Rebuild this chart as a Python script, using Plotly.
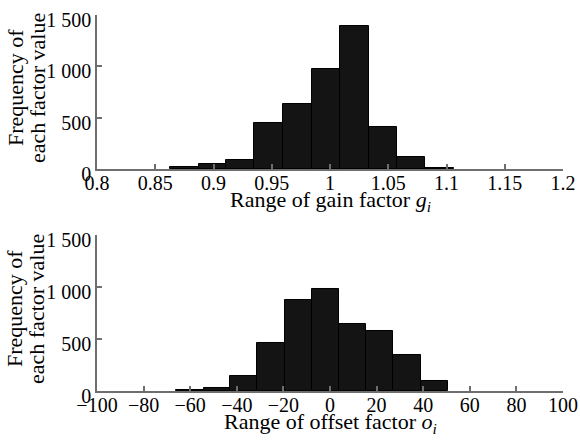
import plotly.graph_objects as go

# Gain factor histogram
gain_edges = [0.8629, 0.8873, 0.9107, 0.9350, 0.9594, 0.9845, 1.0089, 1.0332, 1.0575, 1.0818, 1.1062]
gain_counts = [20, 45, 85, 445, 630, 970, 1390, 407, 116, 8]

# Offset factor histogram
offset_edges = [-66.0, -54.2, -42.8, -31.3, -19.5, -7.7, 4.0, 15.45, 26.9, 39.06, 50.6]
offset_counts = [8, 29, 147, 462, 872, 984, 647, 580, 343, 99]

y_tickvals = [0, 500, 1000, 1500]
y_ticktext = ["0", "500", "1 000", "1 500"]
gain_ticks = [0.8, 0.85, 0.9, 0.95, 1.0, 1.05, 1.1, 1.15, 1.2]
gain_ticktext = ["0.8", "0.85", "0.9", "0.95", "1", "1.05", "1.1", "1.15", "1.2"]
offset_ticks = [-100, -80, -60, -40, -20, 0, 20, 40, 60, 80, 100]

def centers_widths(edges):
    c = [(edges[i] + edges[i + 1]) / 2 for i in range(len(edges) - 1)]
    w = [edges[i + 1] - edges[i] for i in range(len(edges) - 1)]
    return c, w

gc, gw = centers_widths(gain_edges)
oc, ow = centers_widths(offset_edges)

FONT = "Liberation Serif"
AX = "#6e6e6e"
TS = 20
LS = 22

fig = go.Figure()
fig.add_trace(go.Bar(x=gc, y=gain_counts, width=gw, xaxis="x", yaxis="y",
                     marker=dict(color="#141414", line=dict(color="#000000", width=1))))
fig.add_trace(go.Bar(x=oc, y=offset_counts, width=ow, xaxis="x2", yaxis="y2",
                     marker=dict(color="#141414", line=dict(color="#000000", width=1))))

axis_common = dict(showline=True, linecolor=AX, linewidth=1.5, ticks="inside", ticklen=5,
                   tickcolor=AX, tickwidth=1.5, showgrid=False, zeroline=False, automargin=False,
                   tickfont=dict(family=FONT, size=TS, color="black"))

top_dom = [0.5904, 1.0]
bot_dom = [0.0, 0.4149]

fig.update_layout(
    width=580, height=441,
    margin=dict(l=97, r=17, t=15, b=50),
    paper_bgcolor="white", plot_bgcolor="white",
    showlegend=False, bargap=0,
    font=dict(family=FONT, size=LS, color="black"),
    xaxis=dict(domain=[0, 1], anchor="y", range=[0.8, 1.2], tickvals=gain_ticks, ticktext=gain_ticktext,
               ticklabelstandoff=-5, **axis_common),
    yaxis=dict(domain=top_dom, anchor="x", range=[0, 1500], tickvals=y_tickvals, ticktext=y_ticktext,
               ticklabelshift=5, ticklabelstandoff=0, **axis_common),
    xaxis2=dict(domain=[0, 1], anchor="y2", range=[-100, 100], tickvals=offset_ticks,
                ticklabelstandoff=-5, **axis_common),
    yaxis2=dict(domain=bot_dom, anchor="x2", range=[0, 1500], tickvals=y_tickvals, ticktext=y_ticktext,
                ticklabelshift=5, ticklabelstandoff=0, **axis_common),
)

xtitles = ["Range of gain factor <i>g<sub>i</sub></i>", "Range of offset factor <i>o<sub>i</sub></i>"]
for dom, xt in zip((top_dom, bot_dom), xtitles):
    fig.add_annotation(text=xt, xref="paper", yref="paper", x=0.5, y=dom[0],
                       xanchor="center", yanchor="middle", yshift=-32, showarrow=False,
                       font=dict(family=FONT, size=LS, color="black"))
    for line, xs in (("Frequency of", -82), ("each factor value", -60)):
        fig.add_annotation(text=line, textangle=-90,
                           xref="paper", yref="paper", x=0, y=(dom[0] + dom[1]) / 2,
                           xanchor="center", yanchor="middle", xshift=xs, yshift=4, showarrow=False,
                           font=dict(family=FONT, size=LS, color="black"))

fig.write_html("out.html", config={"displayModeBar": False},
               post_script="document.body.style.margin='0';document.body.style.overflow='hidden';")
